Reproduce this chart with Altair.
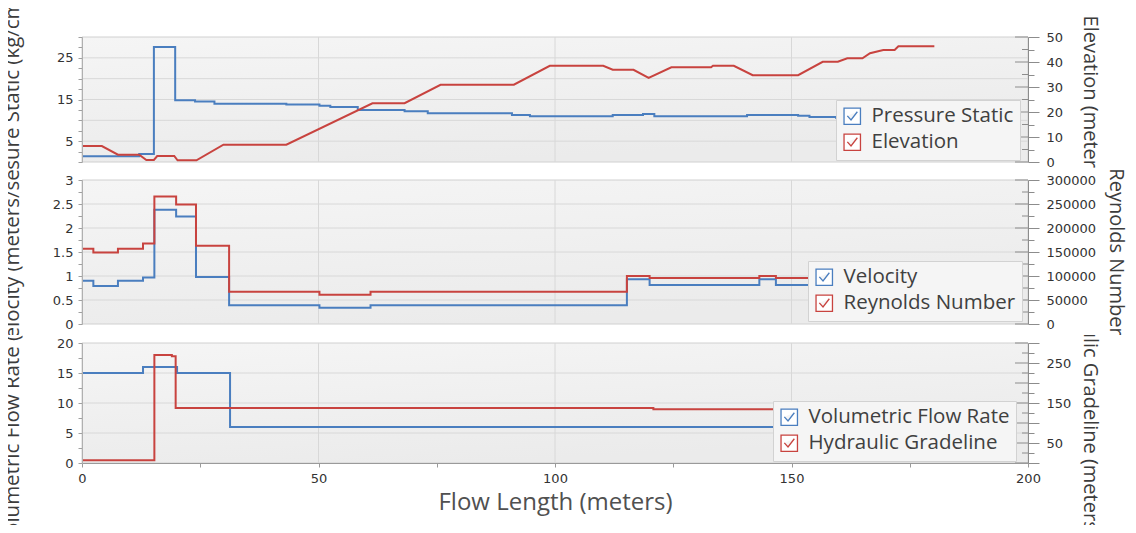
import altair as alt
import pandas as pd

# ---------------- data ----------------
# Top panel: Pressure Static (left axis, kg/cm2) and Elevation (right axis, m)
press_x = [0, 12.1, 15.2, 19.7, 23.9, 28.0, 43.2, 50.2, 52.5, 58.3, 68.2, 73.1,
           90.9, 94.7, 112.2, 118.6, 121.0, 140.6, 151.4, 153.8, 159.4, 180.0]
press_v = [1.4, 1.9, 27.6, 14.8, 14.5, 14.0, 13.8, 13.5, 13.2, 12.5, 12.2, 11.7,
           11.3, 11.0, 11.3, 11.5, 11.0, 11.3, 11.1, 10.8, 10.6, 10.6]
elev_x = [0, 4.2, 7.6, 12.1, 13.6, 15.2, 15.9, 19.5, 20.2, 24.2, 29.9, 43.2,
          61.4, 68.2, 75.8, 91.3, 98.9, 110.2, 112.2, 116.6, 119.8, 124.6,
          133.0, 133.4, 137.8, 141.8, 151.4, 156.6, 159.8, 161.8, 165.0, 166.6,
          169.4, 171.8, 172.6, 180.2]
elev_v = [6.4, 6.4, 2.9, 2.9, 0.8, 0.8, 2.4, 2.4, 0.7, 0.7, 6.9, 6.9,
          23.5, 23.5, 30.9, 30.9, 38.5, 38.5, 36.9, 36.9, 33.6, 37.9,
          37.9, 38.5, 38.5, 34.7, 34.7, 40.1, 40.1, 41.5, 41.5, 43.5,
          44.8, 44.8, 46.3, 46.3]

# Middle panel: Velocity (left, m/s) and Reynolds Number (right)
vel_x = [0, 2.4, 7.6, 12.9, 15.3, 19.9, 24.1, 31.1, 50.2, 61.0, 115.2, 120.0,
         143.2, 146.7, 180.0]
vel_v = [0.90, 0.79, 0.90, 0.97, 2.38, 2.24, 0.98, 0.39, 0.34, 0.39, 0.93, 0.81,
         0.93, 0.81, 0.81]
re_v = [157000, 149000, 157000, 167500, 265500, 249000, 163000, 67000, 61000,
        67000, 100000, 96000, 100000, 96000, 96000]

# Bottom panel: Volumetric Flow Rate (left) and Hydraulic Gradeline (right, m)
flow_x = [0, 12.9, 20.1, 31.3, 180.0]
flow_v = [15.0, 16.0, 15.0, 6.0, 6.0]
hgl_x = [0, 15.3, 19.0, 19.8, 120.8, 180.0]
hgl_v = [7.0, 270.0, 267.0, 137.5, 134.5, 134.5]

x_ticks = [0, 25, 50, 75, 100, 125, 150, 175, 200]
x_grid = [50, 100, 150]

# ---------------- styling ----------------
W = 1120
XL, XR = 74, 1020          # pixel range of the x scale inside each view
BLUE = "#4a7ebf"
RED = "#c8433f"
TICKFONT = "DejaVu Sans"
TFONT = "Open Sans"
GRID = "#d8d8d8"
AXC = "#8c8c8c"
TCOL = "#3c3c3c"
FMT = "~r"
CHECK = "M-1,-1H1V1H-1Z M-0.6,-0.05 L-0.15,0.45 L0.62,-0.55"
BG = {"gradient": "linear", "x1": 0, "y1": 0, "x2": 0.4, "y2": 1,
      "stops": [{"offset": 0, "color": "#f5f5f5"}, {"offset": 1, "color": "#ebebeb"}]}

XS = alt.Scale(domain=[0, 200], range=[XL, XR], nice=False, zero=False)


def panel(height, top, bot, ldom, rdom, lticks, lexpr, rmajor, rminor, rexpr,
          hgrid, lname, lx, lv, rname, rx, rv, linterp, rinterp,
          ltitle, ltitle_y, rtitle, rtitle_x, leg_x, leg_y, x_axis):
    ls = alt.Scale(domain=ldom, range=[bot, top], nice=False, zero=False)
    rs = alt.Scale(domain=rdom, range=[bot, top], nice=False, zero=False)
    cs = alt.Scale(domain=[lname, rname], range=[BLUE, RED])
    leg = alt.Legend(title=None, orient="none", legendX=leg_x, legendY=leg_y,
                     symbolType=CHECK, symbolSize=270, symbolStrokeWidth=1.3,
                     symbolFillColor="#ffffff", labelFont=TFONT, labelFontSize=20.5,
                     labelColor="#404040", labelLimit=400, labelOffset=9,
                     rowPadding=3, padding=6, fillColor="#f5f5f5",
                     strokeColor="#d2d2d2", zindex=2)
    left_axis = alt.Axis(orient="left", offset=-XL, values=lticks, labelExpr=lexpr,
                         format=FMT, grid=False, title=None, tickSize=4,
                         labelPadding=5, domainColor="#b0b0b0", tickColor="#a0a0a0",
                         labelFont=TICKFONT, labelFontSize=13, labelColor="#333333",
                         labelOverlap=False, labelFlush=False, zindex=1)
    right_axis = alt.Axis(orient="right", offset=XR - W, values=rmajor, labelExpr=rexpr,
                          format=FMT, grid=False, title=None, tickSize=11,
                          labelPadding=7, domainColor=AXC, tickColor=AXC,
                          labelFont=TICKFONT, labelFontSize=13, labelColor="#333333",
                          labelOverlap=False, labelFlush=False, zindex=1)
    minor_axis = alt.Axis(orient="right", offset=XR - W, values=rminor, labels=False,
                          domain=False, grid=False, title=None, tickSize=6,
                          tickColor=AXC, zindex=1)

    bg = alt.Chart(pd.DataFrame({"a": [0], "b": [200], "c": [ldom[0]], "d": [ldom[1]]})).mark_rect(
        fill=BG, stroke="#d0d0d0", strokeWidth=1).encode(
        x=alt.X("a:Q", scale=XS, axis=x_axis), x2="b:Q",
        y=alt.Y("c:Q", scale=ls, axis=None), y2="d:Q")
    hg = alt.Chart(pd.DataFrame({"gy": hgrid, "a": 0, "b": 200})).mark_rule(
        color=GRID, strokeWidth=1).encode(
        y=alt.Y("gy:Q", scale=ls, axis=None),
        x=alt.X("a:Q", scale=XS, axis=x_axis), x2="b:Q")
    vg = alt.Chart(pd.DataFrame({"gx": x_grid, "c": ldom[0], "d": ldom[1]})).mark_rule(
        color=GRID, strokeWidth=1).encode(
        x=alt.X("gx:Q", scale=XS, axis=x_axis),
        y=alt.Y("c:Q", scale=ls, axis=None), y2="d:Q")
    lline = alt.Chart(pd.DataFrame({"x": lx, "v": lv, "s": lname})).mark_line(
        interpolate=linterp, strokeWidth=2).encode(
        x=alt.X("x:Q", scale=XS, axis=x_axis),
        y=alt.Y("v:Q", scale=ls, axis=left_axis),
        color=alt.Color("s:N", scale=cs, legend=leg))
    rline = alt.Chart(pd.DataFrame({"x": rx, "v": rv, "s": rname})).mark_line(
        interpolate=rinterp, strokeWidth=2).encode(
        x=alt.X("x:Q", scale=XS, axis=x_axis),
        y=alt.Y("v:Q", scale=rs, axis=right_axis),
        color=alt.Color("s:N", scale=cs, legend=leg))
    rmaj = alt.Chart(pd.DataFrame({"t": rmajor})).mark_rule(color=AXC).encode(
        y=alt.Y("t:Q", scale=rs, axis=None),
        x=alt.value(XR - 13), x2=alt.value(XR))
    rmin = alt.Chart(pd.DataFrame({"t": rminor})).mark_rule(color=AXC).encode(
        y=alt.Y("t:Q", scale=rs, axis=minor_axis),
        x=alt.value(XR - 6), x2=alt.value(XR))
    lt = alt.Chart(pd.DataFrame({"t": [ltitle]})).mark_text(
        angle=270, font=TFONT, fontSize=20.5, color=TCOL, clip=True,
        align="center", baseline="middle").encode(
        x=alt.value(5), y=alt.value(ltitle_y), text="t:N")
    rt = alt.Chart(pd.DataFrame({"t": [rtitle]})).mark_text(
        angle=90, font=TFONT, fontSize=20, color=TCOL, clip=True,
        align="center", baseline="middle").encode(
        x=alt.value(rtitle_x), y=alt.value((top + bot) / 2), text="t:N")
    return alt.layer(bg, hg, vg, lline, rline, rmaj, rmin, lt, rt).resolve_scale(
        y="independent").properties(width=W, height=height)


x_axis_bottom = alt.Axis(orient="bottom", offset=128 - 190, values=x_ticks,
                         labelExpr="datum.value % 50 == 0 ? datum.label : ''",
                         format=FMT, grid=False, tickSize=4, labelPadding=5,
                         domainColor="#9a9a9a", tickColor="#9a9a9a",
                         labelFont=TICKFONT, labelFontSize=13, labelColor="#333333",
                         labelOverlap=False, labelFlush=False,
                         title="Flow Length (meters)", titleFont=TFONT,
                         titleFontSize=24, titleFontWeight="normal",
                         titleColor="#505050", titlePadding=5, zindex=1)

p1 = panel(161, 29, 154, [0, 30], [0, 50],
           [2.5 * i for i in range(13)], "datum.value % 10 == 5 ? datum.label : ''",
           [0, 10, 20, 30, 40, 50], [5, 15, 25, 35, 45], "datum.label",
           [5, 10, 15, 20, 25],
           "Pressure Static", press_x, press_v, "Elevation", elev_x, elev_v,
           "step-after", "linear",
           "Pressure Static (kg/cm²)", 91.5, "Elevation (meters)", 1082, 828, 92, None)

p2 = panel(166, 11, 155, [0, 3], [0, 300000],
           [0.25 * i for i in range(13)],
           "round(datum.value * 4) % 2 == 0 ? datum.label : ''",
           [0, 50000, 100000, 150000, 200000, 250000, 300000],
           [25000, 75000, 125000, 175000, 225000, 275000], "datum.label",
           [0.5, 1, 1.5, 2, 2.5],
           "Velocity", vel_x, vel_v, "Reynolds Number", vel_x, re_v,
           "step-after", "step-after",
           "Velocity (meters/sec)", 83, "Reynolds Number", 1108, 800, 92, None)

p3 = panel(190, 8, 128, [0, 20], [0, 300],
           [2.5 * i for i in range(9)],
           "round(datum.value * 2) % 10 == 0 ? datum.label : ''",
           [0, 50, 100, 150, 200, 250, 300],
           [25, 75, 125, 175, 225, 275],
           "datum.value % 100 == 50 ? datum.label : ''",
           [5, 10, 15],
           "Volumetric Flow Rate", flow_x, flow_v, "Hydraulic Gradeline", hgl_x, hgl_v,
           "step-after", "step-after",
           "Volumetric Flow Rate (liters/sec)", 60, "Hydraulic Gradeline (meters)", 1082,
           765, 66, x_axis_bottom)

chart = alt.vconcat(p1, p2, p3, spacing=0, bounds="flush").resolve_scale(
    color="independent", x="independent", y="independent"
).properties(padding=0).configure_view(stroke=None)

chart.save("out.html", embed_options={"renderer": "svg", "actions": False})
